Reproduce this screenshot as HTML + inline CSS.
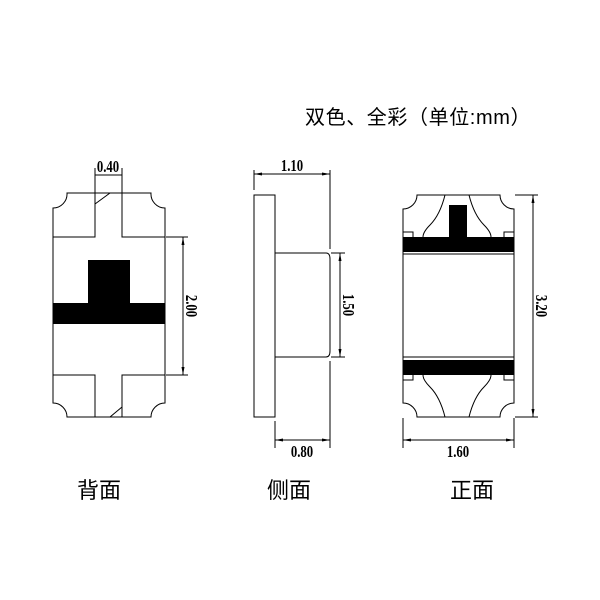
<!DOCTYPE html>
<html><head><meta charset="utf-8"><style>
html,body{margin:0;padding:0;background:#fff;}
svg{display:block;}
text{font-family:"Liberation Sans","Noto Sans CJK SC",sans-serif;fill:#000;}
.n{font-family:"Liberation Serif",serif;font-size:17px;font-weight:bold;}
</style></head><body>
<svg width="600" height="600" viewBox="0 0 600 600" xmlns="http://www.w3.org/2000/svg">
<defs>
<marker id="a" markerWidth="8" markerHeight="6" refX="8" refY="3" orient="auto-start-reverse" markerUnits="userSpaceOnUse"><path d="M0,1.5 L8,3 L0,4.5 Z" fill="#000"/></marker>
</defs>
<text x="305" y="124" font-size="20" letter-spacing="0.6">双色、全彩（单位:mm）</text>

<g fill="none" stroke="#000" stroke-width="1">
<path d="M67,193 H151 A14,14 0 0 0 165,208 V403 A14,14 0 0 0 151,417 H67 A14,14 0 0 0 53,403 V208 A14,14 0 0 0 67,193 Z"/>
<path d="M53,237 H95 V193 M122,193 V237 H165"/>
<path d="M53,375 H95 V417 M122,417 V375 H165"/>
<path d="M95,204 L110,193 M110,417 L122,407"/>
<path d="M95,193 V168 M122,193 V168"/>
<line x1="95" y1="175" x2="122" y2="175"/>
<path d="M166,237 H188 M166,375 H188"/>
<line x1="183" y1="237" x2="183" y2="375" marker-start="url(#a)" marker-end="url(#a)"/>

<rect x="254" y="195" width="21" height="222"/>
<path d="M275,253 H326 Q330,253 330,259 V351 Q330,357 326,357 H275"/>
<path d="M254,190 V170 M330,170 V249 M330,361 V448 M275,421 V448"/>
<line x1="254" y1="174" x2="330" y2="174" marker-start="url(#a)" marker-end="url(#a)"/>
<line x1="331" y1="253" x2="345" y2="253"/><line x1="331" y1="357" x2="345" y2="357"/>
<line x1="340" y1="253" x2="340" y2="357" marker-start="url(#a)" marker-end="url(#a)"/>
<line x1="275" y1="440" x2="330" y2="440" marker-start="url(#a)" marker-end="url(#a)"/>

<path d="M417,195 H500 A14,14 0 0 0 514,209 V403 A14,14 0 0 0 500,417 H417 A14,14 0 0 0 403,403 V209 A14,14 0 0 0 417,195 Z"/>
<line x1="403" y1="254" x2="514" y2="254"/>
<line x1="403" y1="357" x2="514" y2="357"/>
<path d="M445,195 Q440,215 430,225 Q423,232 423,237 M469,195 Q474,215 484,225 Q491,232 491,237"/>
<path d="M445,417 Q440,397 430,387 Q423,380 423,375 M469,417 Q474,397 484,387 Q491,380 491,375"/>
<path d="M403,232 H413 V237 M514,232 H504 V237 M403,380 H413 V375 M514,380 H504 V375"/>
<path d="M515,195 H538 M515,417 H538 M403,418 V448 M514,418 V448"/>
<line x1="533" y1="195" x2="533" y2="417" marker-start="url(#a)" marker-end="url(#a)"/>
<line x1="403" y1="440" x2="514" y2="440" marker-start="url(#a)" marker-end="url(#a)"/>
</g>
<g fill="#000">
<rect x="88" y="260" width="42" height="44"/>
<rect x="53" y="303" width="112" height="21"/>
<rect x="449" y="205" width="18" height="33"/>
<rect x="403" y="237" width="111" height="15"/>
<rect x="403" y="360" width="111" height="15"/>
</g>
<text class="n" transform="translate(108,172) scale(0.75,1)" text-anchor="middle">0.40</text>
<text class="n" transform="translate(186,306) rotate(90) scale(0.75,1)" text-anchor="middle">2.00</text>
<text class="n" transform="translate(292,171) scale(0.75,1)" text-anchor="middle">1.10</text>
<text class="n" transform="translate(343,305) rotate(90) scale(0.75,1)" text-anchor="middle">1.50</text>
<text class="n" transform="translate(302,457) scale(0.75,1)" text-anchor="middle">0.80</text>
<text class="n" transform="translate(536,306) rotate(90) scale(0.75,1)" text-anchor="middle">3.20</text>
<text class="n" transform="translate(458,457) scale(0.75,1)" text-anchor="middle">1.60</text>

<text x="77" y="498" font-size="22">背面</text>
<text x="267" y="498" font-size="22">侧面</text>
<text x="450" y="498" font-size="22">正面</text>
</svg>
</body></html>
